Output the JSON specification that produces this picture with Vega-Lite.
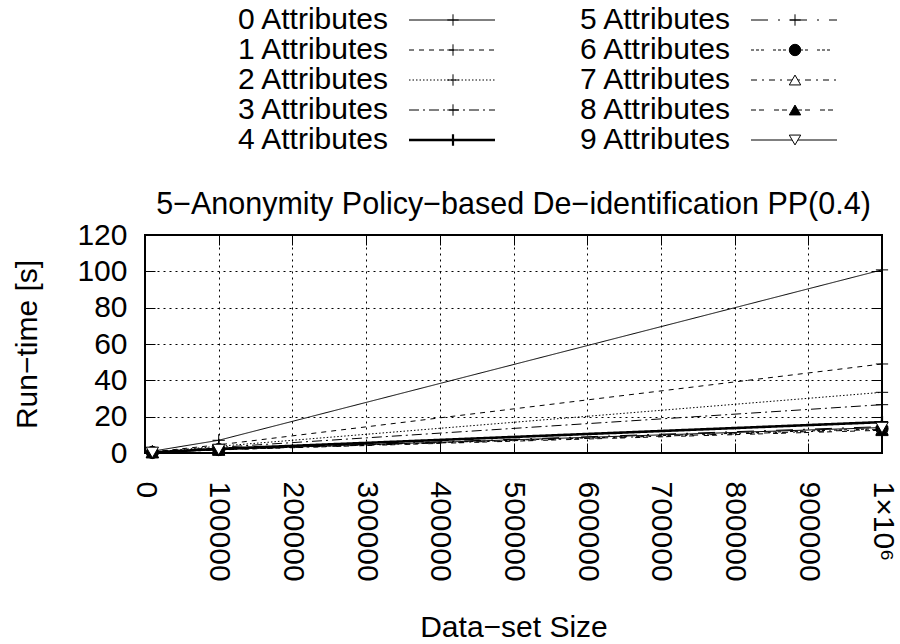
{
  "$schema": "https://vega.github.io/schema/vega-lite/v6.json",
  "padding": {"left": 11, "top": 0, "right": 0, "bottom": 0},
  "background": "white",
  "config": {"font": "Liberation Sans", "concat": {"spacing": 28}},
  "datasets": {
    "legend": [
      {"series": "0", "label": "0 Attributes"},
      {"series": "1", "label": "1 Attributes"},
      {"series": "2", "label": "2 Attributes"},
      {"series": "3", "label": "3 Attributes"},
      {"series": "4", "label": "4 Attributes"},
      {"series": "5", "label": "5 Attributes"},
      {"series": "6", "label": "6 Attributes"},
      {"series": "7", "label": "7 Attributes"},
      {"series": "8", "label": "8 Attributes"},
      {"series": "9", "label": "9 Attributes"}
    ],
    "runtime": [
      {"series": "0", "size": 10000, "time": 1.0},
      {"series": "0", "size": 100000, "time": 7.0},
      {"series": "0", "size": 1000000, "time": 100.8},
      {"series": "1", "size": 10000, "time": 0.6},
      {"series": "1", "size": 100000, "time": 4.5},
      {"series": "1", "size": 1000000, "time": 49.0},
      {"series": "2", "size": 10000, "time": 0.5},
      {"series": "2", "size": 100000, "time": 3.7},
      {"series": "2", "size": 1000000, "time": 33.4},
      {"series": "3", "size": 10000, "time": 0.4},
      {"series": "3", "size": 100000, "time": 3.1},
      {"series": "3", "size": 1000000, "time": 26.6},
      {"series": "4", "size": 10000, "time": 0.3},
      {"series": "4", "size": 100000, "time": 2.3},
      {"series": "4", "size": 1000000, "time": 17.0},
      {"series": "5", "size": 10000, "time": 0.3},
      {"series": "5", "size": 100000, "time": 2.0},
      {"series": "5", "size": 1000000, "time": 14.5},
      {"series": "6", "size": 10000, "time": 0.3},
      {"series": "6", "size": 100000, "time": 1.9},
      {"series": "6", "size": 1000000, "time": 13.4},
      {"series": "7", "size": 10000, "time": 0.3},
      {"series": "7", "size": 100000, "time": 1.8},
      {"series": "7", "size": 1000000, "time": 13.0},
      {"series": "8", "size": 10000, "time": 0.3},
      {"series": "8", "size": 100000, "time": 1.7},
      {"series": "8", "size": 1000000, "time": 12.5},
      {"series": "9", "size": 10000, "time": 0.3},
      {"series": "9", "size": 100000, "time": 1.9},
      {"series": "9", "size": 1000000, "time": 14.0}
    ]
  },
  "vconcat": [
    {
      "width": 737,
      "height": 160,
      "view": {"stroke": null},
      "data": {"name": "legend"},
      "transform": [
        {"calculate": "toNumber(datum.series) >= 5 ? 1 : 0", "as": "col"},
        {"calculate": "toNumber(datum.series) % 5", "as": "row"}
      ],
      "layer": [
        {
          "mark": {"type": "text", "align": "right", "baseline": "middle", "fontSize": 30, "color": "black"},
          "encoding": {
            "x": {"field": "col", "type": "quantitative", "scale": {"domain": [0, 1], "range": [243, 585]}, "axis": null},
            "y": {"field": "row", "type": "quantitative", "scale": {"domain": [0, 4], "range": [20, 140]}, "axis": null},
            "text": {"field": "label"}
          }
        },
        {
          "mark": {"type": "rule", "color": "black", "xOffset": 21, "x2Offset": 107},
          "encoding": {
            "x": {"field": "col", "type": "quantitative"},
            "x2": {"field": "col"},
            "y": {"field": "row", "type": "quantitative"},
            "strokeDash": {"field": "series", "type": "nominal", "legend": null,
              "scale": {"domain": ["0","1","2","3","4","5","6","7","8","9"],
                "range": [[1,0],[5,5],[1.5,2],[10,4,2,4],[1,0],[17,10,2,10],[3,2,3,2,3,9],[6,5,2,5],[5,3,5,10],[1,0]]}},
            "strokeWidth": {"condition": {"test": "datum.series === '4'", "value": 2.6}, "value": 1}
          }
        },
        {
          "mark": {"type": "point", "stroke": "black", "opacity": 1, "size": 130, "xOffset": 65},
          "encoding": {
            "x": {"field": "col", "type": "quantitative"},
            "y": {"field": "row", "type": "quantitative"},
            "strokeWidth": {"condition": {"test": "datum.series === '4'", "value": 2.2}, "value": 1},
            "shape": {"field": "series", "type": "nominal", "legend": null,
              "scale": {"domain": ["0","1","2","3","4","5","6","7","8","9"],
                "range": ["M-1,0L1,0M0,-1L0,1","M-1,0L1,0M0,-1L0,1","M-1,0L1,0M0,-1L0,1","M-1,0L1,0M0,-1L0,1","M-1,0L1,0M0,-1L0,1","M-1,0L1,0M0,-1L0,1","circle","triangle-up","triangle-up","triangle-down"]}},
            "fill": {"field": "series", "type": "nominal", "legend": null,
              "scale": {"domain": ["0","1","2","3","4","5","6","7","8","9"],
                "range": ["transparent","transparent","transparent","transparent","transparent","transparent","black","white","black","white"]}}
          }
        }
      ]
    },
    {
      "width": 737,
      "height": 218,
      "view": {"stroke": "black", "strokeWidth": 2},
      "title": {"text": "5−Anonymity Policy−based De−identification PP(0.4)", "fontSize": 30.5, "fontWeight": "normal", "offset": 0, "color": "black"},
      "data": {"name": "runtime"},
      "layer": [
        {
          "mark": {"type": "line", "color": "black"},
          "encoding": {
            "x": {"field": "size", "type": "quantitative", "scale": {"domain": [0, 1000000], "nice": false},
              "axis": {"orient": "bottom", "values": [0,100000,200000,300000,400000,500000,600000,700000,800000,900000,1000000],
                "labelExpr": "datum.value == 1000000 ? '1×10⁶' : format(datum.value, 'd')",
                "labelAngle": 90, "labelFontSize": 30, "labelColor": "black", "labelPadding": 38, "labelFlush": false, "labelOverlap": false, "labelBound": false,
                "tickSize": -10, "tickColor": "black", "domain": false,
                "grid": true, "gridDash": [2,4], "gridColor": "black", "gridOpacity": 1,
                "title": "Data−set Size", "titleFontSize": 30, "titleFontWeight": "normal", "titleColor": "black", "titlePadding": 31}},
            "y": {"field": "time", "type": "quantitative", "scale": {"domain": [0, 120], "nice": false},
              "axis": {"orient": "left", "values": [0,20,40,60,80,100,120],
                "labelFontSize": 30, "labelColor": "black", "labelPadding": 28,
                "tickSize": -10, "tickColor": "black", "domain": false,
                "grid": true, "gridDash": [2,4], "gridColor": "black", "gridOpacity": 1,
                "title": "Run−time [s]", "titleFontSize": 30, "titleFontWeight": "normal", "titleColor": "black", "titlePadding": 34}},
            "detail": {"field": "series"},
            "strokeDash": {"field": "series", "type": "nominal", "legend": null,
              "scale": {"domain": ["0","1","2","3","4","5","6","7","8","9"],
                "range": [[1,0],[5,5],[1.5,2],[10,4,2,4],[1,0],[17,10,2,10],[3,2,3,2,3,9],[6,5,2,5],[5,3,5,10],[1,0]]}},
            "strokeWidth": {"condition": {"test": "datum.series === '4'", "value": 2.6}, "value": 1}
          }
        },
        {
          "mark": {"type": "point", "stroke": "black", "opacity": 1, "size": 150},
          "encoding": {
            "x": {"field": "size", "type": "quantitative",
              "axis": {"orient": "top", "values": [0,100000,200000,300000,400000,500000,600000,700000,800000,900000,1000000],
                "labels": false, "title": null, "grid": false, "domain": false, "tickSize": -10, "tickColor": "black"}},
            "y": {"field": "time", "type": "quantitative",
              "axis": {"orient": "right", "values": [0,20,40,60,80,100,120],
                "labels": false, "title": null, "grid": false, "domain": false, "tickSize": -10, "tickColor": "black"}},
            "strokeWidth": {"condition": {"test": "datum.series === '4'", "value": 2.2}, "value": 1},
            "shape": {"field": "series", "type": "nominal", "legend": null,
              "scale": {"domain": ["0","1","2","3","4","5","6","7","8","9"],
                "range": ["M-1,0L1,0M0,-1L0,1","M-1,0L1,0M0,-1L0,1","M-1,0L1,0M0,-1L0,1","M-1,0L1,0M0,-1L0,1","M-1,0L1,0M0,-1L0,1","M-1,0L1,0M0,-1L0,1","circle","triangle-up","triangle-up","triangle-down"]}},
            "fill": {"field": "series", "type": "nominal", "legend": null,
              "scale": {"domain": ["0","1","2","3","4","5","6","7","8","9"],
                "range": ["transparent","transparent","transparent","transparent","transparent","transparent","black","white","black","white"]}}
          }
        }
      ],
      "resolve": {"axis": {"x": "independent", "y": "independent"}}
    }
  ]
}
